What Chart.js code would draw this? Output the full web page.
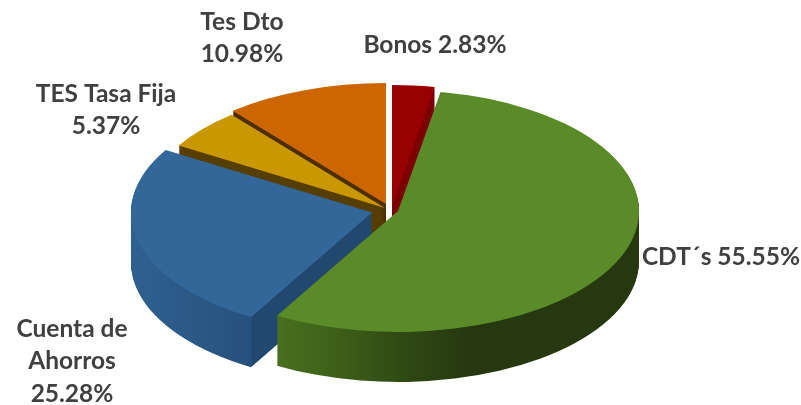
<!DOCTYPE html>
<html>
<head>
<meta charset="utf-8">
<style>
  html, body { margin: 0; padding: 0; background: #fff; }
  canvas { display: block; }
</style>
<script src="https://cdn.jsdelivr.net/npm/chart.js@4"></script>
</head>
<body>
<canvas id="portafolio" width="801" height="405"></canvas>
<script>
// ── Datos ──────────────────────────────────────────────
const categorias = ["Bonos", "CDT´s", "Cuenta de Ahorros", "TES Tasa Fija", "Tes Dto"];
const valores = [2.83, 55.55, 25.28, 5.37, 10.98];

const coloresCara = ["#990000", "#5b8b28", "#336699", "#c99700", "#cc6600"];
// lateral: [x de pantalla, color]
const coloresLado = [
    [[392, "#7c0000"], [436, "#7c0000"]],
    [[277, "#48701e"], [340, "#3d5f19"], [400, "#304a14"], [470, "#26380f"], [640, "#26380f"]],
    [[132, "#2f608f"], [200, "#2a5885"], [251, "#27517d"], [252, "#234870"], [374, "#234870"]],
    [[180, "#553e00"], [386, "#553e00"]],
    [[233, "#4d2e00"], [386, "#4d2e00"]],
];

// ── Geometría de la torta ──────────────────────────────
const centroX = 390, centroY = 208;
const radioX = 241, radioY = 121, profundidad = 50;
const desplazamiento = [[2, -2], [8, 3], [-18, 4.5], [-5, 0], [-4, -4]];
const ordenDibujo = [4, 3, 0, 2, 1]; // de atrás hacia adelante

// ── Etiquetas ──────────────────────────────────────────
const pct = (i) => valores[i].toFixed(2) + "%";
const etiquetas = [
    { x: 435, y: 45, lineas: [categorias[0] + " " + pct(0)] },
    { x: 721, y: 257, lineas: [categorias[1] + " " + pct(1)] },
    { x: 72, y: 329, lineas: ["Cuenta de", "Ahorros", pct(2)] },
    { x: 106, y: 94, lineas: [categorias[3], pct(3)] },
    { x: 242, y: 22, lineas: [categorias[4], pct(4)] },
];

const torta3d = {
    id: "torta3d",
    beforeDatasetsDraw(chart) {
        const ctx = chart.ctx;
        const arcos = chart.getDatasetMeta(0).data;

        ordenDibujo.forEach((i) => {
            const arco = arcos[i];
            const opciones = arco.options;
            const escalaX = radioX / arco.outerRadius;
            const escalaY = radioY / arco.outerRadius;
            const cx = centroX + desplazamiento[i][0];
            const cy = centroY + desplazamiento[i][1];

            const pintar = (dy, relleno) => {
                ctx.save();
                ctx.translate(cx, cy + dy);
                ctx.scale(escalaX, escalaY);
                ctx.translate(-arco.x, -arco.y);
                const o = Object.create(opciones);
                o.backgroundColor = relleno(ctx);
                arco.options = o;
                arco.draw(ctx);
                ctx.restore();
            };

            // gradiente en x local del arco, definido con x de pantalla
            const x0 = cx - radioX, x1 = cx + radioX;
            const gradiente = () => {
                const aLocal = (x) => arco.x + (x - cx) / escalaX;
                const g = ctx.createLinearGradient(aLocal(x0), 0, aLocal(x1), 0);
                coloresLado[i].forEach(([x, color]) => {
                    g.addColorStop(Math.min(1, Math.max(0, (x - x0) / (x1 - x0))), color);
                });
                return g;
            };

            for (let dy = profundidad; dy > 0; dy--) {
                pintar(dy, gradiente);
            }
            pintar(0, () => coloresCara[i]);
            arco.options = opciones;
        });

        ctx.save();
        ctx.fillStyle = "#404040";
        ctx.font = "bold 24.5px Lato, sans-serif";
        ctx.textAlign = "center";
        ctx.textBaseline = "middle";
        etiquetas.forEach((e) => {
            e.lineas.forEach((linea, n) => {
                ctx.fillText(linea, e.x, e.y + n * 32.5);
            });
        });
        ctx.restore();
        return false;
    },
};

new Chart(document.getElementById("portafolio"), {
    type: "pie",
    data: {
        labels: categorias,
        datasets: [{ data: valores, backgroundColor: coloresCara, borderWidth: 0 }],
    },
    options: {
        responsive: false,
        animation: false,
        events: [],
        layout: { padding: 0 },
        plugins: {
            legend: { display: false },
            tooltip: { enabled: false },
        },
    },
    plugins: [torta3d],
});
</script>
</body>
</html>
